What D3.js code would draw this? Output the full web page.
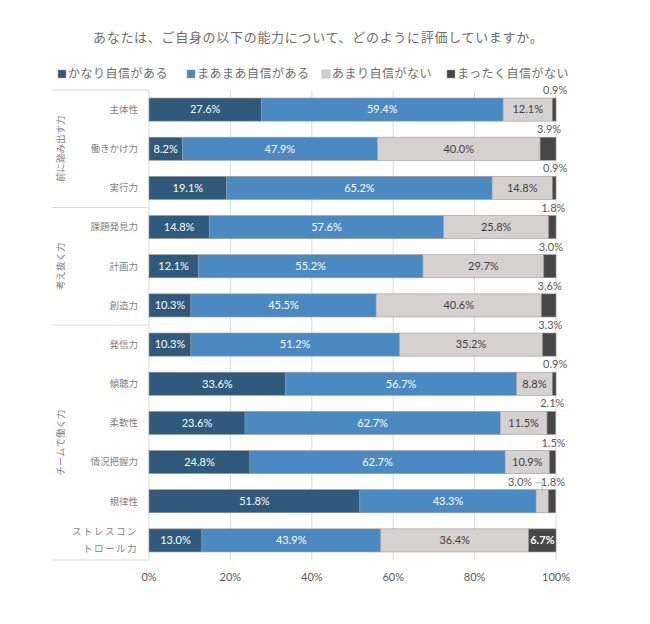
<!DOCTYPE html>
<html>
<head>
<meta charset="utf-8">
<script src="https://cdn.jsdelivr.net/npm/d3@7"></script>
<style>
  body { margin: 0; background: #fff; }
  text { font-family: Lato, "Noto Sans CJK JP", sans-serif; }
</style>
</head>
<body>
<div id="chart"></div>
<script>
var title = "あなたは、ご自身の以下の能力について、どのように評価していますか。";
var seriesNames = ["かなり自信がある", "まあまあ自信がある", "あまり自信がない", "まったく自信がない"];
var categories = ["主体性", "働きかけ力", "実行力", "課題発見力", "計画力", "創造力",
  "発信力", "傾聴力", "柔軟性", "情況把握力", "規律性", "ストレスコントロール力"];
var categoryLines = [["主体性"], ["働きかけ力"], ["実行力"], ["課題発見力"], ["計画力"], ["創造力"],
  ["発信力"], ["傾聴力"], ["柔軟性"], ["情況把握力"], ["規律性"], ["ストレスコン", "トロール力"]];
var groups = ["前に踏み出す力", "考え抜く力", "チームで働く力"];
var groupSizes = [3, 3, 6];
var veryConfident = [27.6, 8.2, 19.1, 14.8, 12.1, 10.3, 10.3, 33.6, 23.6, 24.8, 51.8, 13.0];
var fairlyConfident = [59.4, 47.9, 65.2, 57.6, 55.2, 45.5, 51.2, 56.7, 62.7, 62.7, 43.3, 43.9];
var notVery = [12.1, 40.0, 14.8, 25.8, 29.7, 40.6, 35.2, 8.8, 11.5, 10.9, 3.0, 36.4];
var notAtAll = [0.9, 3.9, 0.9, 1.8, 3.0, 3.6, 3.3, 0.9, 2.1, 1.5, 1.8, 6.7];
var xTicks = [0, 20, 40, 60, 80, 100];

var W = 650, H = 624;
var colors = ["#2f5a7b", "#4a89c1", "#d5d1d0", "#474747"];
var textColors = ["#ffffff", "#ffffff", "#404040", "#ffffff"];

var svg = d3.select("#chart").append("svg").attr("width", W).attr("height", H);

var x = d3.scaleLinear().domain([0, 100]).range([149, 556]);
var y = d3.scaleBand().domain(categories).range([90, 560]).paddingInner(0.41).paddingOuter(0.205);

// title
svg.append("text")
  .attr("x", 93).attr("y", 42)
  .style("font-size", "13px")
  .style("letter-spacing", "0.7px")
  .style("fill", "#6d6d6d")
  .text(title);

// legend
var legendX = [58, 187, 322, 447];
var legend = svg.append("g").selectAll("g").data(seriesNames).join("g")
  .attr("transform", function(d, i) { return "translate(" + legendX[i] + ",74)"; });
legend.append("rect").attr("x", 0).attr("y", -4).attr("width", 8).attr("height", 8)
  .attr("fill", function(d, i) { return colors[i]; })
  .attr("stroke", "#a0a0a0").attr("stroke-width", 0.5);
legend.append("text").attr("x", 10).attr("dy", "0.35em")
  .style("font-size", "12px").style("letter-spacing", "0.5px").style("fill", "#6d6d6d")
  .text(function(d) { return d; });

// gridlines
svg.append("g").selectAll("line").data(xTicks.slice(1)).join("line")
  .attr("x1", function(d) { return x(d); }).attr("x2", function(d) { return x(d); })
  .attr("y1", 90).attr("y2", 560)
  .attr("stroke", "#d9d9d9").attr("stroke-width", 1);

// x axis labels
svg.append("g").selectAll("text").data(xTicks).join("text")
  .attr("x", function(d) { return x(d); }).attr("y", 581)
  .attr("text-anchor", "middle")
  .style("font-size", "11px").style("fill", "#595959")
  .text(function(d) { return d + "%"; });

// category frame (multi-level axis)
var step = y.step();
var frame = svg.append("g").attr("stroke", "#d9d9d9").attr("stroke-width", 1);
frame.append("line").attr("x1", 149).attr("x2", 149).attr("y1", 90).attr("y2", 560);
var bounds = [0];
groupSizes.forEach(function(n, i) { bounds.push(bounds[i] + n); });
frame.selectAll("line.sep").data(bounds).join("line").attr("class", "sep")
  .attr("x1", 52).attr("x2", 149)
  .attr("y1", function(d) { return 90 + d * step; })
  .attr("y2", function(d) { return 90 + d * step; });

// group labels
svg.append("g").selectAll("text").data(groups).join("text")
  .attr("transform", function(d, i) {
    var cy = 90 + (bounds[i] + bounds[i + 1]) / 2 * step;
    return "translate(61," + cy + ") rotate(-90)";
  })
  .attr("text-anchor", "middle").attr("dy", "0.35em")
  .style("font-size", "9.5px").style("fill", "#7f7f7f")
  .text(function(d) { return d; });

// category labels
var catG = svg.append("g").selectAll("text").data(categories).join("text")
  .attr("x", 138)
  .attr("y", function(d) { return y(d) + y.bandwidth() / 2; })
  .attr("text-anchor", "end")
  .style("font-size", "9.5px").style("fill", "#7f7f7f");
catG.each(function(d, i) {
  var lines = categoryLines[i];
  var t = d3.select(this);
  lines.forEach(function(l, j) {
    t.append("tspan").attr("x", 138)
      .attr("dy", j === 0 ? (0.35 - (lines.length - 1) * 0.9) + "em" : "1.8em")
      .style("letter-spacing", lines.length > 1 ? "1.5px" : "0px")
      .text(l);
  });
});

// stacked bars
var table = categories.map(function(c, i) {
  return { cat: c, v: [veryConfident[i], fairlyConfident[i], notVery[i], notAtAll[i]] };
});
var keys = [0, 1, 2, 3];
var stack = d3.stack().keys(keys).value(function(d, k) { return d.v[k]; })(table);

var layers = svg.append("g").selectAll("g").data(stack).join("g")
  .attr("fill", function(d, i) { return colors[i]; });
layers.selectAll("rect").data(function(d) { return d; }).join("rect")
  .attr("x", function(d) { return x(d[0]); })
  .attr("y", function(d) { return y(d.data.cat); })
  .attr("width", function(d) { return x(d[1]) - x(d[0]); })
  .attr("height", y.bandwidth())
  .attr("stroke", "#9a9a9a").attr("stroke-width", 0.6);

// value labels
var labels = svg.append("g");
stack.forEach(function(layer, k) {
  layer.forEach(function(d) {
    var val = d.data.v[k];
    var txt = val.toFixed(1) + "%";
    var cx = (x(d[0]) + x(d[1])) / 2;
    var top = y(d.data.cat);
    var mid = top + y.bandwidth() / 2;
    if (val >= 5) {
      labels.append("text").attr("x", cx).attr("y", mid).attr("dy", "0.35em")
        .attr("text-anchor", "middle")
        .style("font-size", "11px").style("fill", textColors[k])
        .style("font-weight", k === 3 ? "bold" : "normal")
        .text(txt);
    } else if (k === 3) {
      labels.append("text").attr("x", cx + 1).attr("y", top - 4)
        .attr("text-anchor", "middle")
        .style("font-size", "11px").style("fill", "#595959")
        .text(txt);
    } else {
      // small light-gray segment: label to the upper left with a leader
      labels.append("text").attr("x", cx - 10).attr("y", top - 4)
        .attr("text-anchor", "end")
        .style("font-size", "11px").style("fill", "#595959")
        .text(txt);
      labels.append("polyline")
        .attr("points", [[cx - 7, top - 7], [cx, top - 7], [cx, top + 3]].join(" "))
        .attr("fill", "none").attr("stroke", "#a6a6a6").attr("stroke-width", 0.8);
    }
  });
});
</script>
</body>
</html>
